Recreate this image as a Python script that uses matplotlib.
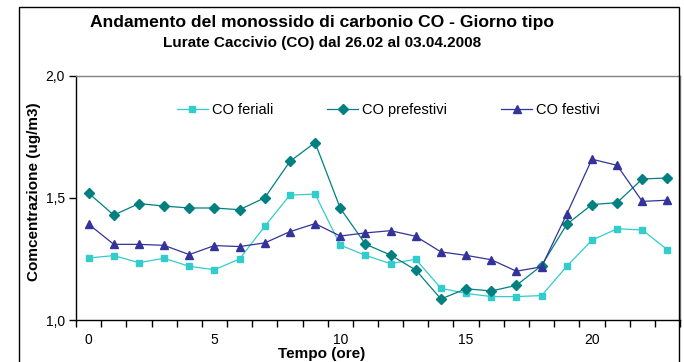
import matplotlib
matplotlib.use("Agg")
import matplotlib.pyplot as plt
import numpy as np
from matplotlib.patches import Rectangle

plt.rcParams["font.family"] = ["Liberation Sans", "DejaVu Sans"]

# --- data ---
ore = list(range(24))
co_feriali = [1.254, 1.264, 1.235, 1.253, 1.220, 1.206, 1.250, 1.384, 1.512, 1.516,
              1.307, 1.265, 1.231, 1.249, 1.130, 1.109, 1.096, 1.096, 1.100, 1.220,
              1.327, 1.374, 1.369, 1.288]
co_prefestivi = [1.520, 1.430, 1.477, 1.467, 1.459, 1.459, 1.452, 1.501, 1.650, 1.727,
                 1.458, 1.311, 1.266, 1.205, 1.086, 1.128, 1.119, 1.142, 1.223, 1.392,
                 1.473, 1.481, 1.578, 1.582]
co_festivi = [1.393, 1.310, 1.310, 1.306, 1.268, 1.305, 1.301, 1.316, 1.362, 1.395,
              1.344, 1.357, 1.366, 1.343, 1.279, 1.265, 1.247, 1.200, 1.218, 1.434,
              1.659, 1.634, 1.486, 1.491]
y_ticks = [1.0, 1.5, 2.0]
y_labels = ["1,0", "1,5", "2,0"]
x_label_ticks = [0, 5, 10, 15, 20]

W, H = 684, 362
fig = plt.figure(figsize=(W / 100, H / 100), dpi=100)

# outer chart frame (bottom runs off the image)
fig.patches.append(Rectangle((19 / W, -0.1), 660 / W, 1.1 - 7 / H,
                             transform=fig.transFigure, fill=False,
                             edgecolor="black", linewidth=1.0))

ax = fig.add_axes([76 / W, 42 / H, 604 / W, 244 / H])

ax.plot(ore, co_feriali, color="#33CCCC", marker="s", markersize=5,
        linewidth=0.9, label="CO feriali")
ax.plot(ore, co_prefestivi, color="#008080", marker="D", markersize=4.8,
        linewidth=0.9, label="CO prefestivi")
ax.plot(ore, co_festivi, color="#333399", marker="^", markersize=6,
        linewidth=0.9, label="CO festivi")

ax.set_xlim(-0.5, 23.5)
ax.set_ylim(1.0, 2.0)
ax.set_yticks(y_ticks)
ax.set_yticklabels(y_labels)
ax.set_xticks(np.arange(-0.5, 24, 1))
ax.set_xticklabels([])
ax.set_xticks(x_label_ticks, minor=True)
ax.set_xticklabels([str(v) for v in x_label_ticks], minor=True)
ax.tick_params(axis="both", which="major", direction="out", length=5,
               width=1, labelsize=10, color="black")
ax.tick_params(axis="x", which="minor", length=0, pad=9, labelsize=10)
ax.tick_params(axis="y", pad=3)

for s in ["top", "right"]:
    ax.spines[s].set_color("#808080")
    ax.spines[s].set_linewidth(1)
for s in ["left", "bottom"]:
    ax.spines[s].set_color("black")
    ax.spines[s].set_linewidth(1)

ax.legend(loc="center left", bbox_to_anchor=(177 / W, 1 - 110 / H),
          bbox_transform=fig.transFigure, ncol=3, frameon=False,
          fontsize=10.5, handlelength=2.1, handletextpad=0.3,
          columnspacing=3.7, borderpad=0, borderaxespad=0)

fig.text(322 / W, 1 - 23 / H,
         "Andamento del monossido di carbonio CO - Giorno tipo",
         ha="center", va="center", fontsize=12.6, fontweight="bold")
fig.text(322 / W, 1 - 43 / H,
         "Lurate Caccivio (CO) dal 26.02 al 03.04.2008",
         ha="center", va="center", fontsize=11, fontweight="bold")
fig.text(322 / W, 1 - 354 / H, "Tempo (ore)",
         ha="center", va="center", fontsize=11, fontweight="bold")
fig.text(34 / W, 1 - 192 / H, "Comcentrazione (ug/m3)", rotation=90,
         ha="center", va="center", fontsize=11, fontweight="bold")

fig.savefig("out.png", dpi=100)
